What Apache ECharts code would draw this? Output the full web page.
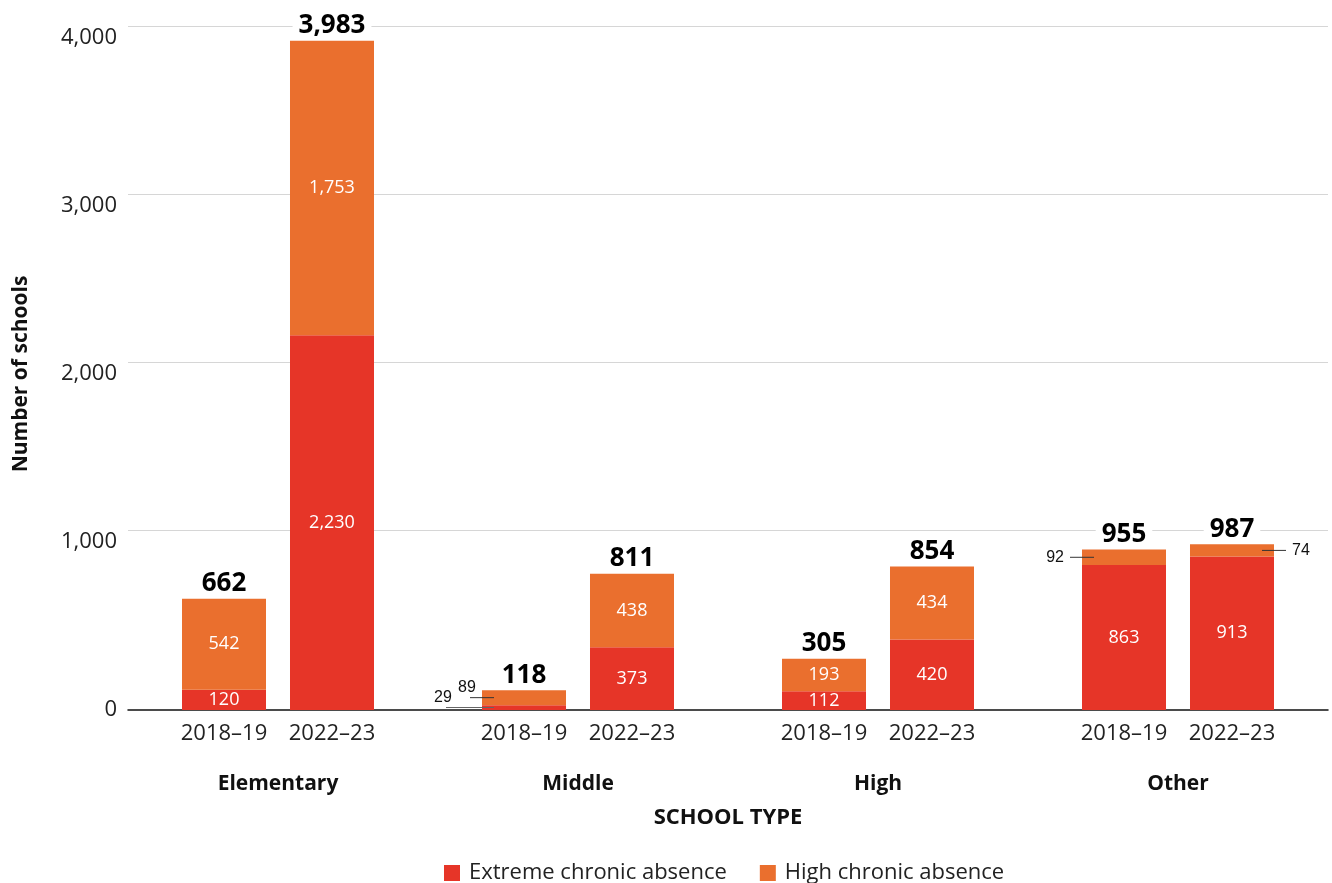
<!DOCTYPE html>
<html><head><meta charset="utf-8">
<script src="https://cdn.jsdelivr.net/npm/echarts@6/dist/echarts.min.js"></script>
<style>html,body{margin:0;padding:0;background:#fff}#c{width:1332px;height:883px}</style>
</head><body><div id="c"></div>
<script>
// ---- data ----
const categories = ['Elementary', 'Middle', 'High', 'Other'];
const years = ['2018–19', '2022–23'];
const extreme2018 = [120, 29, 112, 863];
const high2018 = [542, 89, 193, 92];
const extreme2022 = [2230, 373, 420, 913];
const high2022 = [1753, 438, 434, 74];
const yTicks = [0, 1000, 2000, 3000, 4000];
const seriesNames = ['Extreme chronic absence', 'High chronic absence'];
const xAxisTitle = 'SCHOOL TYPE';
const yAxisTitle = 'Number of schools';

// ---- style ----
const RED = '#E63528', ORANGE = '#EA6F2E';
const FONT = '"Open Sans", "Noto Sans", sans-serif';
const fmt = v => v.toLocaleString('en-US');
const BAR_W = 84;

const insideLabel = {show: true, position: 'inside', color: '#fff', fontSize: 18, fontFamily: FONT,
  formatter: p => fmt(p.value)};

const callRich = {
  v: {fontSize: 16, fontFamily: 'Liberation Sans', color: '#111', lineHeight: 18},
  p: {width: 12, height: 1, lineHeight: 2},
  g: {width: 6, height: 1},
  l48: {width: 48, height: 1, backgroundColor: '#666', lineHeight: 2},
  l24: {width: 24, height: 1, backgroundColor: '#333', lineHeight: 2},
  l24b: {width: 24, height: 1, backgroundColor: '#333'}
};

function item(value, label) {
  return label ? {value, label} : value;
}

// callout labels for small segments
const calloutTwoLine = (lineKey, dx) => ({
  show: true, position: [dx, '50%'], align: 'left', verticalAlign: 'bottom',
  formatter: p => '{v|' + fmt(p.value) + '}\n{p|}{' + lineKey + '|}', rich: callRich, offset: [0, 1]
});
const calloutLeft = () => ({
  show: true, position: [12, '50%'], align: 'right', verticalAlign: 'middle',
  formatter: p => '{v|' + fmt(p.value) + '}{g|}{l24b|}', rich: callRich
});
const calloutRight = () => ({
  show: true, position: [BAR_W - 12, '50%'], align: 'left', verticalAlign: 'middle',
  formatter: p => '{l24b|}{g|}{v|' + fmt(p.value) + '}', rich: callRich
});

const ext18Data = extreme2018.map((v, i) => item(v, i === 1 ? calloutTwoLine('l48', -48) : null));
const high18Data = high2018.map((v, i) => item(v, i === 1 ? calloutTwoLine('l24', -24) : (i === 3 ? calloutLeft() : null)));
const ext22Data = extreme2022.map(v => v);
const high22Data = high2022.map((v, i) => item(v, i === 3 ? calloutRight() : null));

function totalSeries(stack, ext, high) {
  return {
    type: 'bar', stack, name: 'total', barWidth: BAR_W, silent: true,
    data: ext.map(() => 0),
    label: {show: true, position: 'top', distance: 2,
      formatter: p => fmt(ext[p.dataIndex] + high[p.dataIndex]),
      fontSize: 26, fontWeight: 'bold', color: '#000', fontFamily: FONT,
      backgroundColor: '#fff', padding: [0, 6]}
  };
}

const chart = echarts.init(document.getElementById('c'), null, {renderer: 'canvas'});
chart.setOption({
  animation: false,
  backgroundColor: '#fff',
  textStyle: {fontFamily: FONT},
  grid: [
    {left: 128, right: 4, top: 38, bottom: 173, containLabel: false},
    {left: 128, right: 4, top: 26, bottom: 353, containLabel: false}
  ],
  legend: {
    data: seriesNames, left: 444, top: 862, padding: 0, icon: 'rect', itemWidth: 16, itemHeight: 16, itemGap: 33,
    textStyle: {fontSize: 22, color: '#222', fontFamily: FONT, padding: [0, 0, 0, 4]}, selectedMode: false
  },
  xAxis: [
    {
      type: 'category', gridIndex: 0, data: categories,
      axisLine: {lineStyle: {color: '#111', width: 1.5}}, axisTick: {show: false},
      axisLabel: {
        margin: 12, interval: 0,
        formatter: v => '{y|' + years[0] + '}{y|' + years[1] + '}\n{c|' + v + '}',
        rich: {
          y: {width: 108, align: 'center', fontSize: 22, color: '#222', lineHeight: 24, fontFamily: FONT},
          c: {fontSize: 21, fontWeight: 'bold', color: '#111', lineHeight: 76, fontFamily: FONT}
        }
      },
      name: xAxisTitle, nameLocation: 'middle', nameGap: 97,
      nameTextStyle: {fontSize: 22, fontWeight: 'bold', color: '#111', fontFamily: FONT}
    },
    {type: 'category', gridIndex: 1, data: categories, show: false}
  ],
  yAxis: [
    {
      type: 'value', gridIndex: 0, min: yTicks[0], max: yTicks[yTicks.length - 1], interval: 1000,
      axisLine: {show: false}, axisTick: {show: false}, splitLine: {show: false},
      axisLabel: {formatter: v => fmt(v), fontSize: 22, color: '#222', margin: 11, fontFamily: FONT},
      name: yAxisTitle, nameLocation: 'middle', nameGap: 96,
      nameTextStyle: {fontSize: 21, fontWeight: 'bold', color: '#111', fontFamily: FONT}
    },
    {
      type: 'value', gridIndex: 1, min: yTicks[1], max: yTicks[yTicks.length - 1], interval: 1000,
      axisLine: {show: false}, axisTick: {show: false}, axisLabel: {show: false},
      splitLine: {show: true, lineStyle: {color: '#d6d6d6', width: 1.2}}
    }
  ],
  series: [
    {type: 'bar', name: seriesNames[0], stack: 'a', barWidth: BAR_W, barGap: '28.57%',
      itemStyle: {color: RED}, label: insideLabel, data: ext18Data},
    {type: 'bar', name: seriesNames[1], stack: 'a', barWidth: BAR_W,
      itemStyle: {color: ORANGE}, label: insideLabel, data: high18Data},
    totalSeries('a', extreme2018, high2018),
    {type: 'bar', name: seriesNames[0], stack: 'b', barWidth: BAR_W,
      itemStyle: {color: RED}, label: insideLabel, data: ext22Data},
    {type: 'bar', name: seriesNames[1], stack: 'b', barWidth: BAR_W,
      itemStyle: {color: ORANGE}, label: insideLabel, data: high22Data},
    totalSeries('b', extreme2022, high2022)
  ]
});
</script></body></html>
